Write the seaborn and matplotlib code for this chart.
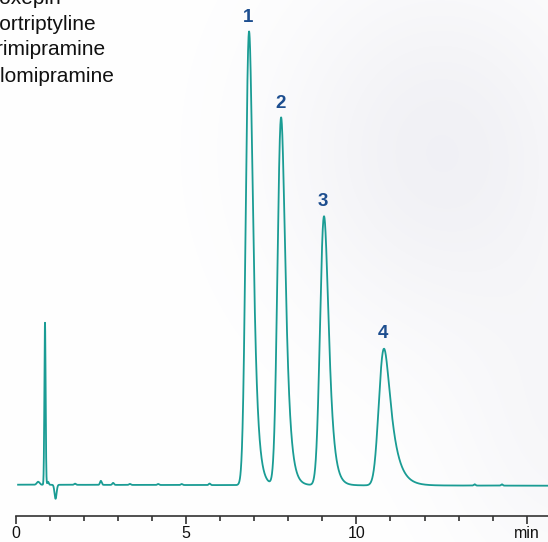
import numpy as np
import pandas as pd
import matplotlib
matplotlib.use("Agg")
import matplotlib.pyplot as plt
import seaborn as sns
from matplotlib.ticker import MultipleLocator, FixedLocator, FixedFormatter

# ---------------- data ----------------
compounds = ["Doxepin", "Nortriptyline", "Trimipramine", "Clomipramine"]
peak_labels = ["1", "2", "3", "4"]
peak_rt = [6.85, 7.79, 9.05, 10.81]          # min
peak_height = [453.7, 367.7, 269.0, 136.7]   # signal (arbitrary units)
peak_sigma = [0.082, 0.088, 0.098, 0.12]     # min
peak_tau = [0.105, 0.115, 0.12, 0.22]        # min (tailing)

void_rt = [0.66, 0.86, 0.95, 1.17]
void_height = [3.0, 162.0, 3.0, -14.0]
void_sigma = [0.04, 0.018, 0.02, 0.03]

bump_rt = [1.74, 2.5, 2.86, 3.35, 4.18, 4.87, 5.69, 13.47, 14.27]
bump_height = [1.2, 4.0, 2.0, 1.0, 1.0, 1.0, 1.5, 1.3, 1.3]

tick_major = [0, 5, 10, 15]
tick_labels = ["0", "5", "10", "min"]

# ---------------- build trace ----------------
t = np.arange(0.07, 15.62, 0.002)


def emg(tt, rt, h, s, tau):
    du = 0.0005
    u = np.arange(-8 * s, 8 * s + 14 * tau, du)
    g = np.exp(-0.5 * (u / s) ** 2)
    k = np.exp(-np.arange(0, 14 * tau, du) / tau)
    c = np.convolve(g, k)[: len(u)]
    c /= c.max()
    umax = u[np.argmax(c)]
    return h * np.interp(tt - rt + umax, u, c, left=0, right=0)


y = -1.0 * (t / 15.6)  # slight baseline drift
for r, h, s, ta in zip(peak_rt, peak_height, peak_sigma, peak_tau):
    y = y + emg(t, r, h, s, ta)
for r, h, s in zip(void_rt, void_height, void_sigma):
    y = y + h * np.exp(-0.5 * ((t - r) / s) ** 2)
for r, h in zip(bump_rt, bump_height):
    y = y + h * np.exp(-0.5 * ((t - r) / 0.025) ** 2)

df = pd.DataFrame({"time": t, "signal": y})

# ---------------- figure ----------------
W, H = 548, 542
fig = plt.figure(figsize=(W / 100, H / 100), dpi=100)
fig.patch.set_facecolor("white")

# faint background texture
bg = fig.add_axes([0, 0, 1, 1], zorder=-5)
yy, xx = np.mgrid[0:H, 0:W]
w = 0.55 * np.exp(-(((xx - 440) / 160.0) ** 2) - (((yy - 150) / 180.0) ** 2))
w += 0.3 * np.exp(-(((xx - 570) / 120.0) ** 2) - (((yy - 430) / 160.0) ** 2))
w = np.clip(w, 0, 1)
tint = np.array([0.90, 0.90, 0.93])
img = np.ones((H, W, 3)) * (1 - w[..., None]) + tint * w[..., None]
bg.imshow(img, aspect="auto", interpolation="bilinear")
bg.axis("off")

left = 15.7 / W
bottom = 26.3 / H
ax = fig.add_axes([left, bottom, 1 - left, 1 - bottom])
ax.set_facecolor("none")

sns.lineplot(data=df, x="time", y="signal", ax=ax, color="#1a9c94",
             linewidth=1.3, estimator=None, sort=False)

ax.set_xlim(0, (W - 15.7) / 34.07)
ax.set_ylim(-31.0, 484.7)

for sp in ["top", "right", "left"]:
    ax.spines[sp].set_visible(False)
ax.spines["bottom"].set_color("#333333")
ax.spines["bottom"].set_linewidth(1.2)
ax.set_yticks([])
ax.xaxis.set_major_locator(FixedLocator(tick_major))
ax.xaxis.set_major_formatter(FixedFormatter(tick_labels))
ax.xaxis.set_minor_locator(MultipleLocator(1))
ax.tick_params(axis="x", which="major", length=6, width=1.2, color="#333333",
               labelsize=11.5, pad=1.5, labelcolor="#111111")
ax.tick_params(axis="x", which="minor", length=3.5, width=1.2, color="#333333")
for lab in ax.get_xticklabels():
    lab.set_fontfamily("Liberation Sans")
ax.set_xlabel("")
ax.set_ylabel("")

for lab, r, h in zip(peak_labels, peak_rt, peak_height):
    ax.text(r - 0.03, h + 14, lab, ha="center", va="center", fontsize=13.5,
            fontweight="bold", color="#1d4e8f", family="Liberation Sans")

baselines = [4, 29.5, 55, 81.5]
for name, b in zip(compounds, baselines):
    fig.text(-15.5 / W, 1 - b / H, name, ha="left", va="baseline",
             fontsize=15, color="#111111", family="Liberation Sans")

fig.savefig("out.png", dpi=100)
